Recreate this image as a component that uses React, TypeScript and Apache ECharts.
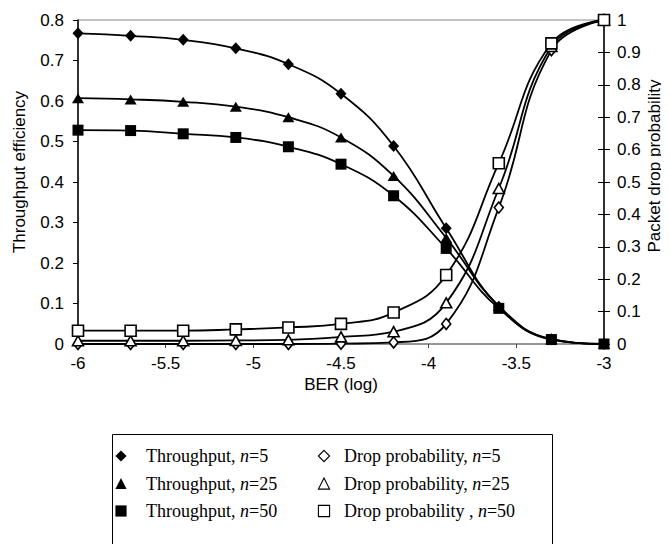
import React, { useEffect, useRef } from "react";
import * as echarts from "echarts";

// BER on a log10 scale
const BER = [-6, -5.7, -5.4, -5.1, -4.8, -4.5, -4.2, -3.9, -3.6, -3.3, -3];

// Throughput efficiency (left axis)
const throughputN5 = [0.767, 0.761, 0.751, 0.73, 0.691, 0.618, 0.489, 0.286, 0.092, 0.012, 0];
const throughputN25 = [0.607, 0.604, 0.598, 0.586, 0.56, 0.51, 0.415, 0.262, 0.094, 0.012, 0];
const throughputN50 = [0.528, 0.527, 0.519, 0.51, 0.487, 0.444, 0.366, 0.236, 0.088, 0.011, 0];

// Packet drop probability (right axis)
const dropN5 = [0, 0, 0, 0, 0, 0.001, 0.005, 0.062, 0.421, 0.907, 1];
const dropN25 = [0.01, 0.01, 0.01, 0.011, 0.013, 0.022, 0.038, 0.127, 0.48, 0.918, 1];
const dropN50 = [0.041, 0.041, 0.041, 0.045, 0.051, 0.062, 0.097, 0.213, 0.558, 0.928, 1];

const NAME_T5 = "Throughput, n=5";
const NAME_T25 = "Throughput, n=25";
const NAME_T50 = "Throughput, n=50";
const NAME_D5 = "Drop probability, n=5";
const NAME_D25 = "Drop probability, n=25";
const NAME_D50 = "Drop probability , n=50";

const SANS = "Arial, 'Liberation Sans', sans-serif";
const SERIF = "'Times New Roman', 'Liberation Serif', serif";

const pairs = (ys: number[]) => BER.map((x, i) => [x, ys[i]]);

const solid = (name: string, ys: number[], symbol: string, size: number[]) => ({
  name,
  type: "line",
  yAxisIndex: 0,
  data: pairs(ys),
  smooth: 0.45,
  symbol,
  symbolSize: size,
  lineStyle: { color: "#000", width: 1.8 },
  itemStyle: { color: "#000" },
});

const hollow = (name: string, ys: number[], symbol: string, size: number[]) => ({
  name,
  type: "line",
  yAxisIndex: 1,
  data: pairs(ys),
  smooth: 0.45,
  symbol,
  symbolSize: size,
  lineStyle: { color: "#000", width: 1.8 },
  itemStyle: { color: "#fff", borderColor: "#000", borderWidth: 1.6 },
});

const legendText = {
  fontFamily: SERIF,
  fontSize: 18,
  color: "#000",
  rich: {
    i: { fontFamily: SERIF, fontSize: 18, color: "#000", fontStyle: "italic" },
  },
};

const legendFormatter = (name: string) => name.replace("n=", "{i|n}=");

export default function App() {
  const ref = useRef<HTMLDivElement>(null);

  useEffect(() => {
    if (!ref.current) return;
    const chart = echarts.init(ref.current, undefined, { renderer: "svg" });

    const axisLabel = { color: "#000", fontFamily: SANS, fontSize: 17 };
    const nameStyle = { color: "#000", fontFamily: SANS, fontSize: 17 };

    chart.setOption({
      animation: false,
      backgroundColor: "#fff",
      grid: {
        left: 78,
        right: 65,
        top: 20,
        bottom: 208,
        outerBoundsMode: "none",
        containLabel: false,
        show: true,
        borderColor: "#888",
        borderWidth: 1,
      },
      xAxis: {
        type: "value",
        min: -6,
        max: -3,
        interval: 0.5,
        name: "BER (log)",
        nameLocation: "middle",
        nameGap: 32,
        nameMoveOverlap: false,
        nameTextStyle: nameStyle,
        axisLine: { lineStyle: { color: "#888", width: 1.5 } },
        axisTick: { length: 4, lineStyle: { color: "#444" } },
        axisLabel: { ...axisLabel, margin: 11 },
        splitLine: { show: false },
      },
      yAxis: [
        {
          type: "value",
          position: "left",
          min: 0,
          max: 0.8,
          interval: 0.1,
          name: "Throughput efficiency",
          nameLocation: "middle",
          nameGap: 50,
          nameMoveOverlap: false,
          nameTextStyle: { ...nameStyle, padding: [0, 0, 0, 20] },
          axisLine: { show: true, lineStyle: { color: "#000", width: 1.5 } },
          axisTick: { show: true, length: 5, lineStyle: { color: "#000" } },
          axisLabel: { ...axisLabel, margin: 14 },
          splitLine: { show: false },
        },
        {
          type: "value",
          position: "right",
          min: 0,
          max: 1,
          interval: 0.1,
          name: "Packet drop probability",
          nameLocation: "middle",
          nameGap: 42,
          nameMoveOverlap: false,
          nameTextStyle: { ...nameStyle, padding: [0, 0, 0, 32] },
          axisLine: { show: true, lineStyle: { color: "#000", width: 1.5 } },
          axisTick: { show: true, length: 6, lineStyle: { color: "#000" } },
          axisLabel: { ...axisLabel, margin: 13 },
          splitLine: { show: false },
        },
        {
          // inner half of the right axis' cross ticks
          type: "value",
          position: "right",
          min: 0,
          max: 1,
          interval: 0.1,
          axisLine: { show: false },
          axisTick: { show: true, inside: true, length: 6, lineStyle: { color: "#000" } },
          axisLabel: { show: false },
          splitLine: { show: false },
        },
      ],
      legend: [
        {
          data: [NAME_T5, NAME_T25, NAME_T50],
          orient: "vertical",
          left: 100,
          top: 447,
          padding: 0,
          itemWidth: 40,
          itemHeight: 14,
          itemGap: 9.5,
          lineStyle: { opacity: 0 },
          itemStyle: { borderWidth: 0 },
          formatter: legendFormatter,
          textStyle: legendText,
          selectedMode: false,
        },
        {
          data: [NAME_D5, NAME_D25, NAME_D50],
          orient: "vertical",
          left: 308,
          top: 447,
          padding: 0,
          itemWidth: 30,
          itemHeight: 14,
          itemGap: 9.5,
          lineStyle: { opacity: 0 },
          itemStyle: { borderWidth: 1.1 },
          formatter: legendFormatter,
          textStyle: legendText,
          selectedMode: false,
        },
      ],
      graphic: [
        {
          type: "rect",
          shape: { x: 112.5, y: 434.5, width: 440, height: 140 },
          style: { fill: "none", stroke: "#000", lineWidth: 1 },
          silent: true,
        },
      ],
      series: [
        hollow(NAME_D5, dropN5, "diamond", [9, 11]),
        hollow(NAME_D25, dropN25, "triangle", [11, 10]),
        hollow(NAME_D50, dropN50, "rect", [11, 11]),
        solid(NAME_T5, throughputN5, "diamond", [11, 12]),
        solid(NAME_T25, throughputN25, "triangle", [12, 10]),
        solid(NAME_T50, throughputN50, "rect", [11, 11]),
      ],
    });

    return () => chart.dispose();
  }, []);

  return <div ref={ref} style={{ width: 669, height: 552, margin: -8 }} />;
}
